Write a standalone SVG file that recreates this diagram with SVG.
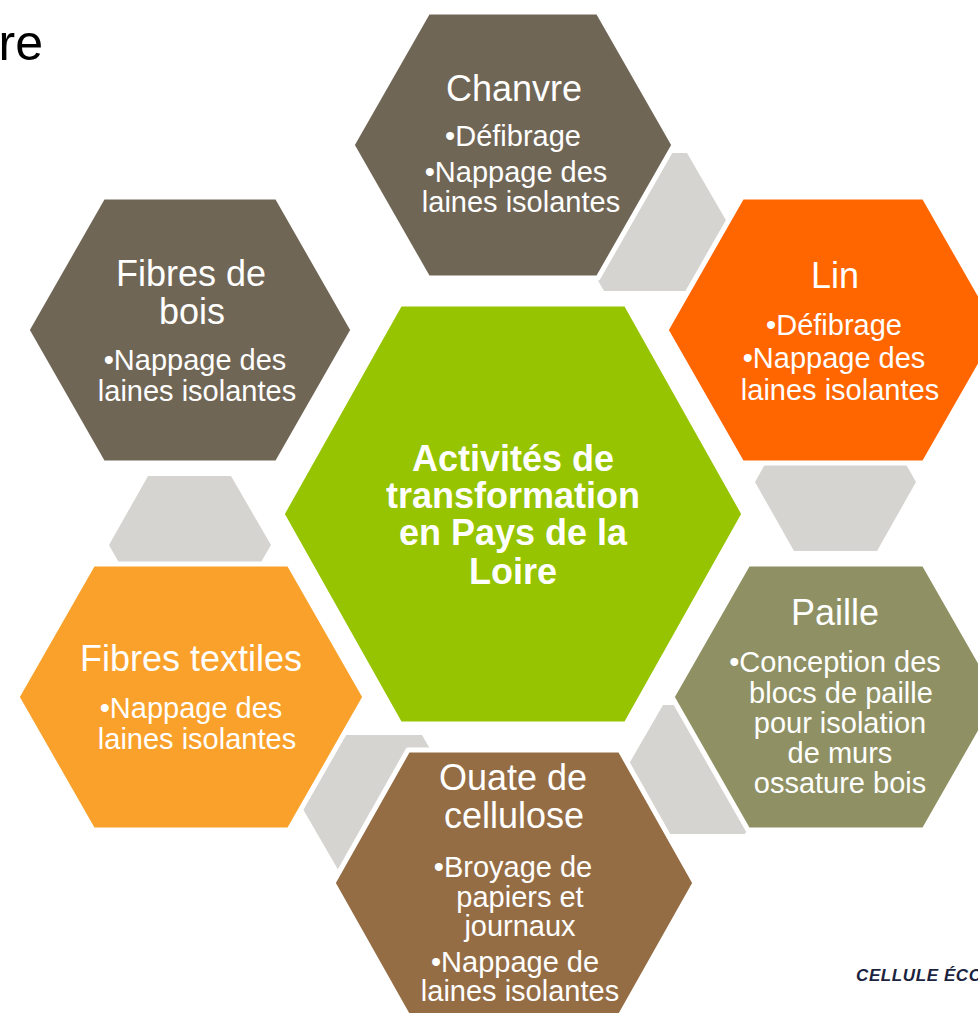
<svg xmlns="http://www.w3.org/2000/svg" width="978" height="1013" viewBox="0 0 978 1013">
<style>
.hex{stroke:#ffffff;stroke-width:5;stroke-linejoin:round}
.gray{fill:#D5D4D1}
.t{font-family:"Liberation Sans",Arial,sans-serif;fill:#ffffff;text-anchor:middle}
.ti{font-size:36px}
.b{font-size:29px}
.c{font-size:36px;font-weight:bold}
</style>
<rect width="978" height="1013" fill="#ffffff"/>
<text x="43" y="60" font-family="'Liberation Sans',Arial,sans-serif" font-size="50" fill="#000000" text-anchor="end">re</text>
<g id="connectors">
<polygon class="gray" points="564,222 604,153 687,153 727,222 687,291 604,291"/>
<polygon class="gray" points="755,482 794,413 877,413 916,482 877,551 794,551"/>
<polygon class="gray" points="626,769 663,705 745,705 782,769 745,834 663,834"/>
<polygon class="gray" points="300,804 340,735 422,735 462,804 422,873 340,873"/>
<polygon class="gray" points="109,545 148,476 231,476 271,545 231,614 148,614"/>
</g>
<g id="chanvre">
<polygon class="hex" fill="#706656" points="352,145 428,12 598,12 674,145 598,278 428,278"/>
<text class="t ti" x="514" y="101">Chanvre</text>
<text class="t b" x="513" y="146">•Défibrage</text>
<text class="t b" x="516" y="182">•Nappage des</text>
<text class="t b" x="521" y="212">laines isolantes</text>
</g>
<g id="fibres-bois">
<polygon class="hex" fill="#706656" points="27,330 103,197 277,197 353,330 277,463 103,463"/>
<text class="t ti" x="191" y="286">Fibres de</text>
<text class="t ti" x="192" y="324">bois</text>
<text class="t b" x="195" y="370">•Nappage des</text>
<text class="t b" x="197" y="401">laines isolantes</text>
</g>
<g id="lin">
<polygon class="hex" fill="#FF6600" points="666,330 742,197 924,197 1000,330 924,463 742,463"/>
<text class="t ti" x="835" y="288">Lin</text>
<text class="t b" x="834" y="335">•Défibrage</text>
<text class="t b" x="834" y="368">•Nappage des</text>
<text class="t b" x="840" y="400">laines isolantes</text>
</g>
<g id="centre">
<polygon class="hex" fill="#96C400" points="282,514 400,304 626,304 744,514 626,724 400,724"/>
<text class="t c" x="513" y="471">Activités de</text>
<text class="t c" x="513" y="508">transformation</text>
<text class="t c" x="513" y="545">en Pays de la</text>
<text class="t c" x="513" y="584">Loire</text>
</g>
<g id="fibres-textiles">
<polygon class="hex" fill="#F9A12A" points="17,697 93,564 289,564 365,697 289,830 93,830"/>
<text class="t ti" x="191" y="671">Fibres textiles</text>
<text class="t b" x="191" y="718">•Nappage des</text>
<text class="t b" x="197" y="749">laines isolantes</text>
</g>
<g id="paille">
<polygon class="hex" fill="#8F9164" points="672,697 748,564 924,564 1000,697 924,830 748,830"/>
<text class="t ti" x="835" y="625">Paille</text>
<text class="t b" x="835" y="672">•Conception des</text>
<text class="t b" x="841" y="703">blocs de paille</text>
<text class="t b" x="840" y="733">pour isolation</text>
<text class="t b" x="840" y="763">de murs</text>
<text class="t b" x="840" y="793">ossature bois</text>
</g>
<g id="ouate">
<polygon class="hex" fill="#956D45" points="333,883 408,750 620,750 695,883 620,1016 408,1016"/>
<text class="t ti" x="513" y="790">Ouate de</text>
<text class="t ti" x="514" y="828">cellulose</text>
<text class="t b" x="513" y="877">•Broyage de</text>
<text class="t b" x="520" y="907">papiers et</text>
<text class="t b" x="520" y="936">journaux</text>
<text class="t b" x="515" y="972">•Nappage de</text>
<text class="t b" x="520" y="1001">laines isolantes</text>
</g>
<text x="856" y="981" font-family="'Liberation Sans',Arial,sans-serif" font-size="17" font-weight="bold" font-style="italic" letter-spacing="0.6" fill="#1C2340">CELLULE ÉCO</text>
</svg>
